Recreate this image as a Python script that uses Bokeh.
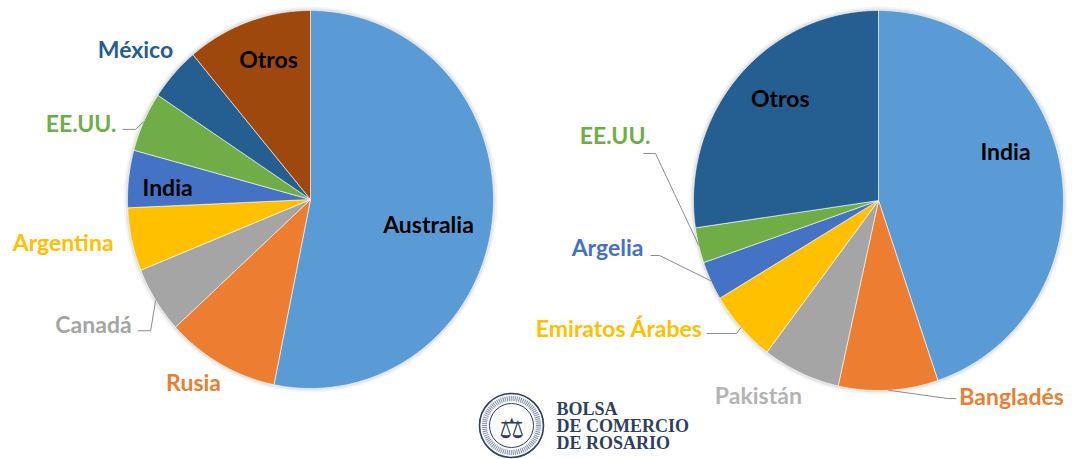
import numpy as np
from bokeh.plotting import figure
from bokeh.models import Range1d
from bokeh.core.properties import value
from bokeh.embed import file_html
from bokeh.resources import INLINE

# ---------------- data ----------------
left_labels = ["Australia", "Rusia", "Canadá", "Argentina", "India", "EE.UU.", "México", "Otros"]
left_values = [53.2, 10.0, 5.7, 5.4, 4.9, 5.1, 4.6, 11.1]

right_labels = ["India", "Bangladés", "Pakistán", "Emiratos Árabes", "Argelia", "EE.UU.", "Otros"]
right_values = [44.8, 8.7, 6.8, 6.1, 3.3, 3.0, 27.3]

logo_lines = ["BOLSA", "DE COMERCIO", "DE ROSARIO"]

# ---------------- styles ----------------
left_colors = ["#5B9BD5", "#ED7D31", "#A5A5A5", "#FFC000", "#4472C4", "#70AD47", "#255E91", "#9E480E"]
right_colors = ["#5B9BD5", "#ED7D31", "#A5A5A5", "#FFC000", "#4472C4", "#70AD47", "#255E91"]
left_text_colors = ["#000000", "#ED7D31", "#A5A5A5", "#FFC000", "#000000", "#70AD47", "#255E91", "#000000"]
right_text_colors = ["#000000", "#ED7D31", "#B4B4B4", "#FFC000", "#4472C4", "#70AD47", "#000000"]

# label layout: (radius factor, angle offset from slice middle in deg, align, leader)
# leader: (start dx, start dy from text anchor, horizontal length) or None
left_layout = [
    (0.658, 5.8, "center", None),
    (1.16, 3.9, "center", None),
    (1.178, -1.7, "right", (6, 7, 13)),
    (1.37, 2.9, "center", None),
    (0.784, -1.3, "center", None),
    (1.134, -3.5, "right", (6, 6, 13)),
    (1.246, -1.9, "center", None),
    (0.776, 2.8, "center", None),
]
right_layout = [
    (0.735, -11.6, "center", None),
    (1.116, -20.0, "left", (-3, 3, -8)),
    (1.214, 7.5, "center", None),
    (1.162, 6.8, "right", (4, 6, 30)),
    (1.294, 14.0, "right", (7, 8, 9)),
    (1.279, 29.2, "right", (-7, 18, 12)),
    (0.758, 4.7, "center", None),
]

LEFT_PIE = dict(cx=310, cy=199, rx=183, ry=189)
RIGHT_PIE = dict(cx=878, cy=200, rx=185, ry=190)

FONT = "Lato"
FONT_SIZE = "23px"
W, H = 1072, 459

p = figure(width=W, height=H, x_range=Range1d(0, W), y_range=Range1d(H, 0),
           toolbar_location=None, output_backend="svg",
           x_axis_location=None, y_axis_location=None, min_border=0)
p.grid.visible = False
p.outline_line_color = None
p.background_fill_color = "white"
p.border_fill_color = "white"


def polar(pie, theta_deg, r):
    t = np.deg2rad(theta_deg)
    return pie["cx"] + r * pie["rx"] * np.sin(t), pie["cy"] - r * pie["ry"] * np.cos(t)


def draw_pie(pie, labels, values, colors, text_colors, layout):
    # soft shadow
    for grow, alpha in [(8, 0.04), (4, 0.07)]:
        p.ellipse(x=[pie["cx"]], y=[pie["cy"]], width=2 * pie["rx"] + grow,
                  height=2 * pie["ry"] + grow, fill_color="#000000", fill_alpha=alpha,
                  line_color=None)
    vals = np.array(values, dtype=float)
    bounds = np.concatenate([[0], np.cumsum(vals) / vals.sum() * 360.0])
    xs, ys = [], []
    for a0, a1 in zip(bounds[:-1], bounds[1:]):
        angs = np.linspace(a0, a1, max(int(a1 - a0) * 2, 4))
        px, py = polar(pie, angs, 1.0)
        xs.append([pie["cx"]] + list(px))
        ys.append([pie["cy"]] + list(py))
    p.patches(xs=xs, ys=ys, fill_color=colors, line_color="white", line_width=0.6)

    for i, lab in enumerate(labels):
        mid = (bounds[i] + bounds[i + 1]) / 2
        r, dth, align, leader = layout[i]
        tx, ty = polar(pie, mid + dth, r)
        p.text(x=[tx], y=[ty], text=[lab], text_align=align, text_baseline="middle",
               text_font=value(FONT), text_font_size=FONT_SIZE, text_font_style="bold",
               text_color=text_colors[i])
        if leader is not None:
            sdx, sdy, hl = leader
            ax, ay = polar(pie, mid, 1.0)
            lx = [tx + sdx, tx + sdx + hl, ax]
            ly = [ty + sdy, ty + sdy, ay]
            p.line(x=lx, y=ly, line_color="#8C8C8C", line_width=1)


draw_pie(LEFT_PIE, left_labels, left_values, left_colors, left_text_colors, left_layout)
draw_pie(RIGHT_PIE, right_labels, right_values, right_colors, right_text_colors, right_layout)

# ---------------- logo ----------------
LOGO_COLOR = "#2F3F60"
LX, LY = 511, 425
p.circle(x=[LX], y=[LY], radius=32, fill_color="#F4F6FA", line_color=LOGO_COLOR, line_width=1.6)
p.circle(x=[LX], y=[LY], radius=27, fill_color=None, line_color=LOGO_COLOR, line_width=5,
         line_dash="1 1", line_alpha=0.55)
p.circle(x=[LX], y=[LY], radius=22, fill_color="white", line_color=LOGO_COLOR, line_width=1)
p.text(x=[LX], y=[LY + 3], text=["⚖"], text_align="center", text_baseline="middle",
       text_font=value("DejaVu Sans"), text_font_size="28px", text_color=LOGO_COLOR)
p.text(x=[556] * 3, y=[408, 425, 442], text=logo_lines, text_align="left",
       text_baseline="middle", text_font=value("Liberation Serif"), text_font_size="18px",
       text_font_style="bold", text_color=LOGO_COLOR)

open("out.html", "w").write(file_html(p, INLINE))
